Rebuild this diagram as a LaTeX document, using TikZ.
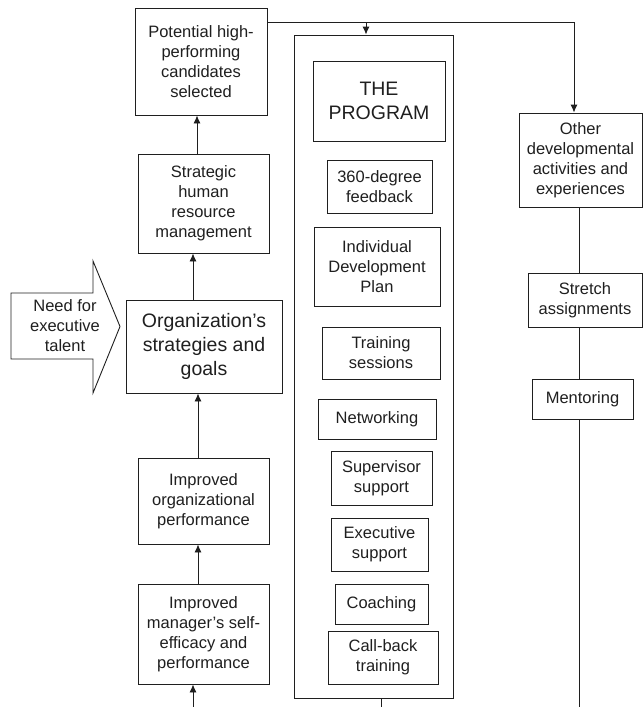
\documentclass[tikz,border=0pt]{standalone}
\usepackage{fontspec}
\setmainfont{Liberation Sans}
\usetikzlibrary{arrows.meta}
\definecolor{ln}{gray}{0.12}
\begin{document}
\begin{tikzpicture}[x=1pt,y=-1pt,
  box/.style={draw=ln, line width=0.9pt, align=center, inner sep=0pt, text=ln,
              font=\fontsize{16.5}{20}\selectfont},
  bigbox/.style={box, font=\fontsize{19.5}{24}\selectfont},
  conn/.style={draw=ln, line width=0.9pt},
  arr/.style={conn, -{Latex[length=8pt,width=7pt]}}]
\useasboundingbox (0,0) rectangle (643,707);

% left column
\node[box, minimum width=132pt, minimum height=107pt] (pot) at (201,61.5) {Potential high-\\performing\\candidates\\selected};
\node[box, minimum width=131pt, minimum height=99pt] (shrm) at (203.5,203.5) {Strategic\\human\\resource\\management};
\node[bigbox, minimum width=156pt, minimum height=93pt] (org) at (204,346.5) {Organization’s\\strategies and\\goals};
\node[box, minimum width=131pt, minimum height=86pt] (iop) at (203.5,501) {Improved\\organizational\\performance};
\node[box, minimum width=131pt, minimum height=100pt] (imp) at (203.5,634) {Improved\\manager’s self-\\efficacy and\\performance};

% need arrow
\draw[conn, line join=miter] (11,293) -- (93,293) -- (93,261) -- (120,326.5) -- (93,393) -- (93,359) -- (11,359) -- cycle;
\node[align=center, inner sep=0pt, text=ln, font=\fontsize{16.5}{20}\selectfont] (need) at (65,326) {Need for\\executive\\talent};

% program
\node[draw=ln, line width=0.9pt, minimum width=159pt, minimum height=663pt, inner sep=0pt] (prog) at (373.5,366.5) {};
\node[bigbox, minimum width=132pt, minimum height=80pt] (the) at (379,101) {THE\\PROGRAM};
\node[box, minimum width=105pt, minimum height=53pt] (f360) at (379.5,186.5) {360-degree\\feedback};
\node[box, minimum width=126pt, minimum height=79pt] (idp) at (377,266.5) {Individual\\Development\\Plan};
\node[box, minimum width=118pt, minimum height=52pt] (train) at (381,353) {Training\\sessions};
\node[box, minimum width=118pt, minimum height=40pt] (net) at (377,419) {Networking};
\node[box, minimum width=101pt, minimum height=54pt] (sup) at (381.5,478) {Supervisor\\support};
\node[box, minimum width=97pt, minimum height=53pt] (exe) at (379.5,544.5) {Executive\\support};
\node[box, minimum width=93pt, minimum height=40pt] (coach) at (381.5,604) {Coaching};
\node[box, minimum width=110pt, minimum height=53pt] (call) at (383,657.5) {Call-back\\training};

% right column
\node[box, minimum width=123pt, minimum height=94pt] (other) at (580.5,160) {Other\\developmental\\activities and\\experiences};
\node[box, minimum width=114pt, minimum height=54pt] (stretch) at (585,300) {Stretch\\assignments};
\node[box, minimum width=101pt, minimum height=40pt] (ment) at (582.5,399) {Mentoring};

% coordinates
\coordinate (xa) at (197,0);
\coordinate (xb) at (193,0);
\coordinate (xc) at (198,0);
\coordinate (xr) at (579,0);
\coordinate (yt) at (0,22);
\coordinate (bot) at (0,707);
\coordinate (turn) at (574,22);
\coordinate (split) at (366,22);
\coordinate (xp) at (381,0);

% connectors
\draw[arr] (shrm.north -| xa) -- (pot.south -| xa);
\draw[arr] (org.north -| xb) -- (shrm.south -| xb);
\draw[arr] (iop.north -| xc) -- (org.south -| xc);
\draw[arr] (imp.north -| xc) -- (iop.south -| xc);
\draw[arr] (bot -| xb) -- (imp.south -| xb);

\draw[arr] (pot.east |- yt) -- (turn) -- (other.north -| turn);
\draw[arr] (split) -- (prog.north -| split);

\draw[conn] (other.south -| xr) -- (stretch.north -| xr);
\draw[conn] (stretch.south -| xr) -- (ment.north -| xr);
\draw[conn] (ment.south -| xr) -- (bot -| xr);
\draw[conn] (prog.south -| xp) -- (bot -| xp);
\end{tikzpicture}
\end{document}
